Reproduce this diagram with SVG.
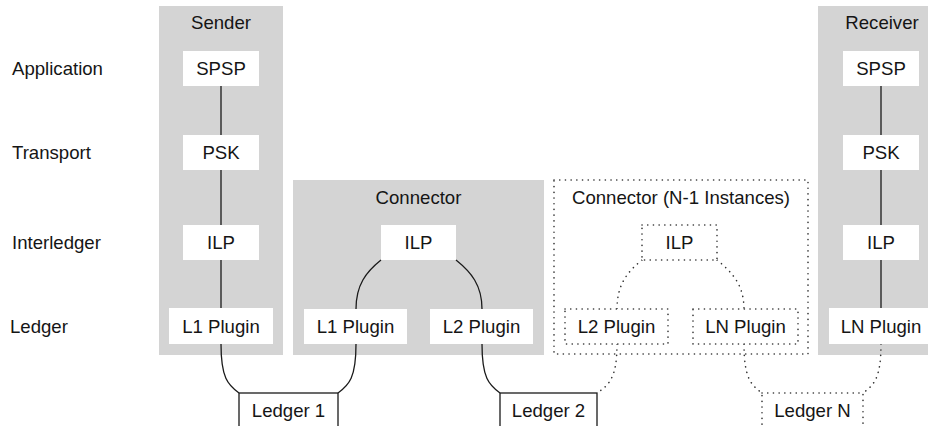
<svg xmlns="http://www.w3.org/2000/svg" width="934" height="426" viewBox="0 0 934 426">
<style>
text{font-family:"Liberation Sans",Arial,sans-serif;font-size:18.6px;fill:#151515}
.c{text-anchor:middle}
.grp{fill:#d4d4d4;stroke:none}
.box{fill:#fff;stroke:none}
.dbox{fill:#fff;stroke:#333;stroke-width:1.6;stroke-dasharray:0.1 5.6;stroke-linecap:round}
.dgrp{fill:none;stroke:#333;stroke-width:1.6;stroke-dasharray:0.1 5.6;stroke-linecap:round}
.led{fill:#fff;stroke:#1a1a1a;stroke-width:1.3}
.ln{fill:none;stroke:#1a1a1a;stroke-width:1.3}
.dl{fill:none;stroke:#333;stroke-width:1.6;stroke-dasharray:0.1 5.6;stroke-linecap:round}
</style>
<g id="layers">
<text x="12" y="75">Application</text>
<text x="12" y="159">Transport</text>
<text x="12" y="249">Interledger</text>
<text x="10" y="333">Ledger</text>
</g>
<g id="sender">
<rect class="grp" x="159" y="6" width="124" height="349"/>
<text class="c" x="221" y="29">Sender</text>
</g>
<g id="connector">
<rect class="grp" x="293" y="180" width="251" height="175"/>
<text class="c" x="418.5" y="204">Connector</text>
</g>
<g id="connectorN">
<rect class="dgrp" x="554" y="180" width="254" height="174"/>
<text class="c" x="681" y="204">Connector (N-1 Instances)</text>
</g>
<g id="receiver">
<rect class="grp" x="818" y="6" width="110" height="349"/>
<text class="c" x="882" y="29">Receiver</text>
</g>
<g id="connectors">
<path class="ln" d="M221,86V135M221,170V225M221,260V308"/>
<path class="ln" d="M881,86V135M881,170V225M881,260V308"/>
<path class="ln" d="M221,344C221,378 228,385 239,393"/>
<path class="ln" d="M381,260C366,272 356,285 356,309"/>
<path class="ln" d="M456,260C471,272 482,285 482,309"/>
<path class="ln" d="M356,344C356,378 349,385 338,393"/>
<path class="ln" d="M482,344C482,378 489,385 500,393"/>
<path class="dl" d="M642,260C627,272 617,285 617,309"/>
<path class="dl" d="M717,260C732,272 744,285 744,309"/>
<path class="dl" d="M617,344C617,378 609,385 597,393"/>
<path class="dl" d="M744,344C744,378 751,385 762,393"/>
<path class="dl" d="M881,344C881,378 874,385 863,393"/>
</g>
<g id="s-spsp"><rect class="box" x="183" y="51" width="76" height="35"/><text class="c" x="221" y="75">SPSP</text></g>
<g id="s-psk"><rect class="box" x="183" y="135" width="76" height="35"/><text class="c" x="221" y="159">PSK</text></g>
<g id="s-ilp"><rect class="box" x="183" y="225" width="76" height="35"/><text class="c" x="221" y="249">ILP</text></g>
<g id="s-l1"><rect class="box" x="169" y="308" width="104" height="36"/><text class="c" x="221" y="333">L1 Plugin</text></g>
<g id="c-ilp"><rect class="box" x="381" y="225" width="75" height="35"/><text class="c" x="418.5" y="249">ILP</text></g>
<g id="c-l1"><rect class="box" x="304" y="309" width="103" height="35"/><text class="c" x="355.5" y="333">L1 Plugin</text></g>
<g id="c-l2"><rect class="box" x="430" y="309" width="103" height="35"/><text class="c" x="481.5" y="333">L2 Plugin</text></g>
<g id="n-ilp"><rect class="dbox" x="642" y="225" width="75" height="35"/><text class="c" x="679.5" y="249">ILP</text></g>
<g id="n-l2"><rect class="dbox" x="565" y="309" width="103" height="35"/><text class="c" x="616.5" y="333">L2 Plugin</text></g>
<g id="n-ln"><rect class="dbox" x="693" y="309" width="105" height="35"/><text class="c" x="745.5" y="333">LN Plugin</text></g>
<g id="r-spsp"><rect class="box" x="843" y="51" width="76" height="35"/><text class="c" x="881" y="75">SPSP</text></g>
<g id="r-psk"><rect class="box" x="843" y="135" width="76" height="35"/><text class="c" x="881" y="159">PSK</text></g>
<g id="r-ilp"><rect class="box" x="843" y="225" width="76" height="35"/><text class="c" x="881" y="249">ILP</text></g>
<g id="r-ln"><rect class="box" x="829" y="308" width="104" height="36"/><text class="c" x="881" y="333">LN Plugin</text></g>
<g id="ledger1"><rect class="led" x="239" y="393" width="99" height="40"/><text class="c" x="288.5" y="417">Ledger 1</text></g>
<g id="ledger2"><rect class="led" x="500" y="393" width="97" height="40"/><text class="c" x="548.5" y="417">Ledger 2</text></g>
<g id="ledgerN"><rect class="dbox" x="762" y="393" width="101" height="40"/><text class="c" x="812.5" y="417">Ledger N</text></g>
</svg>
